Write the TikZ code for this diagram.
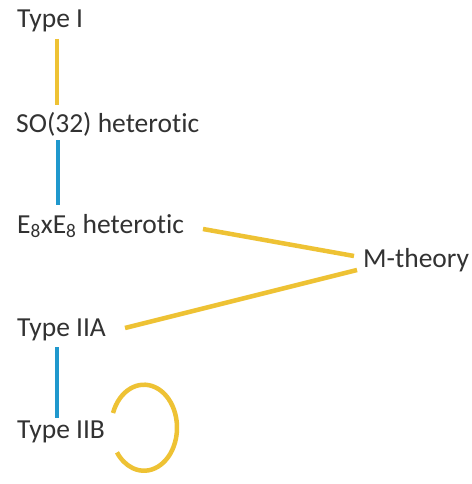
\documentclass[tikz,border=0pt]{standalone}
\usepackage{fontspec}
\setmainfont[RawFeature=-liga]{Carlito}
\definecolor{yel}{RGB}{238,194,52}
\definecolor{blu}{RGB}{32,152,205}
\definecolor{txt}{RGB}{50,50,50}
\tikzset{
  lbl/.style={anchor=base west, inner sep=0pt, text=txt, font=\fontsize{27.5}{34}\selectfont},
  yline/.style={draw=yel, line width=4.5pt},
  bline/.style={draw=blu, line width=4.5pt}
}
\begin{document}
\begin{tikzpicture}[x=1pt,y=-1pt]
\useasboundingbox[fill=white] (0,0) rectangle (471,484);
\node[lbl] (t1) at (17,28) {Type I};
\node[lbl] (so) at (16,132) {SO(32) heterotic};
\node[lbl] (e8) at (17,233) {E\textsubscript{8}xE\textsubscript{8} heterotic};
\node[lbl] (m) at (363,267) {M-theory};
\node[lbl] (t2a) at (17,336) {Type IIA};
\node[lbl] (t2b) at (17,438) {Type IIB};
\draw[yline] ([shift={(40pt,-11pt)}]t1.base west) -- ([shift={(41pt,27pt)}]so.base west);
\draw[bline] ([shift={(42pt,-8pt)}]so.base west) -- ([shift={(41pt,28pt)}]e8.base west);
\draw[yline] ([shift={(186pt,4pt)}]e8.base west) -- ([shift={(-9pt,11pt)}]m.base west);
\draw[yline] ([shift={(108pt,8pt)}]t2a.base west) -- ([shift={(-6pt,-3pt)}]m.base west);
\draw[bline] ([shift={(40pt,-11pt)}]t2a.base west) -- ([shift={(40pt,20pt)}]t2b.base west);
\draw[yline] ([shift={(96pt,25pt)}]t2b.base west) arc[start angle=160, end angle=-145, x radius=33pt, y radius=43pt];
\end{tikzpicture}
\end{document}
